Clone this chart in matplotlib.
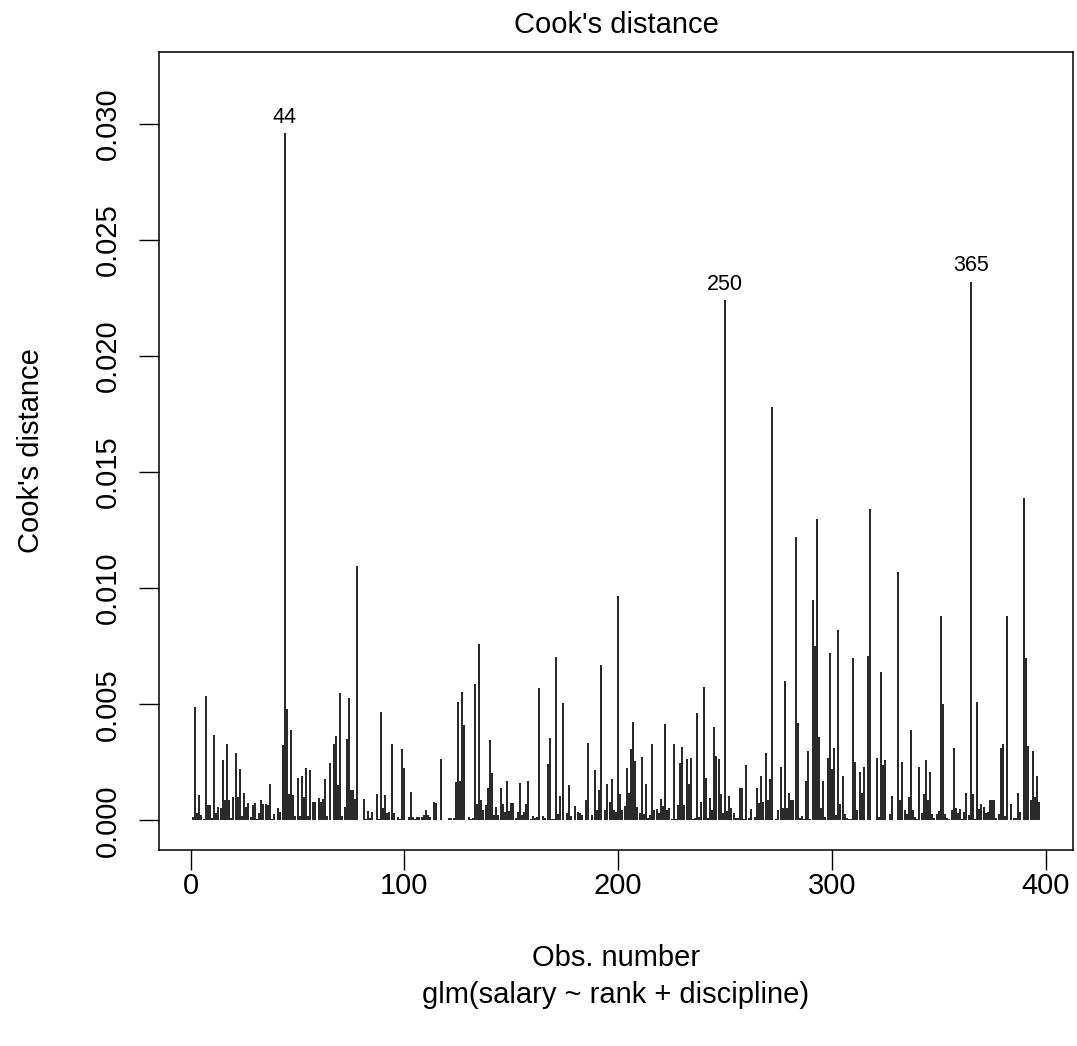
import matplotlib
matplotlib.use("Agg")
import matplotlib.pyplot as plt

plt.rcParams['font.family'] = ['Liberation Sans', 'DejaVu Sans']

cook = [
    0.00013, 0.00489, 0.00033, 0.00110, 0.00023, 0.00007, 0.00535, 0.00066, 0.00066, 0.00011,
    0.00366, 0.00030, 0.00057, 0.00055, 0.00260, 0.00088, 0.00330, 0.00090, 0.00010, 0.00100,
    0.00290, 0.00100, 0.00220, 0.00020, 0.00120, 0.00060, 0.00076, 0.00014, 0.00066, 0.00076,
    0.00007, 0.00030, 0.00088, 0.00070, 0.00070, 0.00065, 0.00155, 0.00007, 0.00026, 0.00004,
    0.00055, 0.00037, 0.00325, 0.02960, 0.00479, 0.00112, 0.00390, 0.00108, 0.00019, 0.00184,
    0.00019, 0.00191, 0.00102, 0.00227, 0.00019, 0.00216, 0.00080, 0.00079, 0.00004, 0.00095,
    0.00079, 0.00093, 0.00177, 0.00019, 0.00249, 0.00004, 0.00330, 0.00364, 0.00152, 0.00550,
    0.00019, 0.00057, 0.00349, 0.00526, 0.00129, 0.00129, 0.00093, 0.01094, 0.00004, 0.00004,
    0.00093, 0.00007, 0.00040, 0.00011, 0.00037, 0.00004, 0.00116, 0.00007, 0.00467, 0.00055,
    0.00108, 0.00033, 0.00037, 0.00330, 0.00033, 0.00004, 0.00016, 0.00007, 0.00306, 0.00227,
    0.00004, 0.00016, 0.00124, 0.00016, 0.00007, 0.00016, 0.00016, 0.00016, 0.00022, 0.00045,
    0.00022, 0.00016, 0.00004, 0.00079, 0.00073, 0.00004, 0.00266, 0.00004, 0.00004, 0.00004,
    0.00009, 0.00011, 0.00011, 0.00165, 0.00512, 0.00172, 0.00553, 0.00410, 0.00004, 0.00016,
    0.00007, 0.00011, 0.00586, 0.00069, 0.00759, 0.00088, 0.00045, 0.00066, 0.00141, 0.00345,
    0.00205, 0.00022, 0.00059, 0.00022, 0.00138, 0.00069, 0.00036, 0.00172, 0.00040, 0.00076,
    0.00076, 0.00011, 0.00036, 0.00160, 0.00022, 0.00036, 0.00069, 0.00172, 0.00007, 0.00019,
    0.00011, 0.00016, 0.00572, 0.00004, 0.00019, 0.00011, 0.00241, 0.00356, 0.00007, 0.00007,
    0.00706, 0.00026, 0.00105, 0.00507, 0.00004, 0.00030, 0.00151, 0.00019, 0.00004, 0.00062,
    0.00037, 0.00030, 0.00022, 0.00004, 0.00088, 0.00332, 0.00004, 0.00022, 0.00216, 0.00045,
    0.00131, 0.00670, 0.00004, 0.00045, 0.00155, 0.00080, 0.00177, 0.00045, 0.00036, 0.00967,
    0.00116, 0.00045, 0.00062, 0.00227, 0.00119, 0.00309, 0.00425, 0.00256, 0.00059, 0.00030,
    0.00274, 0.00026, 0.00155, 0.00011, 0.00022, 0.00328, 0.00047, 0.00050, 0.00033, 0.00093,
    0.00062, 0.00414, 0.00047, 0.00055, 0.00007, 0.00328, 0.00007, 0.00065, 0.00246, 0.00318,
    0.00066, 0.00266, 0.00155, 0.00270, 0.00007, 0.00009, 0.00461, 0.00016, 0.00080, 0.00576,
    0.00181, 0.00011, 0.00098, 0.00047, 0.00402, 0.00277, 0.00266, 0.00115, 0.00030, 0.02240,
    0.00040, 0.00105, 0.00055, 0.00030, 0.00009, 0.00011, 0.00140, 0.00140, 0.00007, 0.00240,
    0.00011, 0.00050, 0.00004, 0.00016, 0.00140, 0.00076, 0.00190, 0.00080, 0.00290, 0.00086,
    0.00180, 0.01780, 0.00004, 0.00007, 0.00045, 0.00230, 0.00055, 0.00600, 0.00055, 0.00120,
    0.00090, 0.00090, 0.01220, 0.00420, 0.00011, 0.00019, 0.00007, 0.00170, 0.00300, 0.00007,
    0.00950, 0.00750, 0.01300, 0.00360, 0.00055, 0.00170, 0.00016, 0.00270, 0.00720, 0.00220,
    0.00310, 0.00022, 0.00820, 0.00070, 0.00190, 0.00026, 0.00009, 0.00007, 0.00007, 0.00700,
    0.00250, 0.00047, 0.00210, 0.00120, 0.00230, 0.00004, 0.00710, 0.01340, 0.00004, 0.00004,
    0.00270, 0.00016, 0.00640, 0.00240, 0.00260, 0.00004, 0.00029, 0.00105, 0.00004, 0.00004,
    0.01070, 0.00090, 0.00250, 0.00045, 0.00026, 0.00100, 0.00390, 0.00045, 0.00014, 0.00007,
    0.00230, 0.00030, 0.00115, 0.00260, 0.00090, 0.00210, 0.00026, 0.00011, 0.00026, 0.00040,
    0.00880, 0.00500, 0.00026, 0.00011, 0.00007, 0.00045, 0.00310, 0.00055, 0.00033, 0.00050,
    0.00007, 0.00036, 0.00120, 0.00022, 0.02320, 0.00115, 0.00007, 0.00510, 0.00050, 0.00070,
    0.00059, 0.00033, 0.00036, 0.00090, 0.00090, 0.00088, 0.00011, 0.00029, 0.00310, 0.00330,
    0.00019, 0.00880, 0.00004, 0.00070, 0.00011, 0.00011, 0.00120, 0.00036, 0.00004, 0.01390,
    0.00700, 0.00320, 0.00090, 0.00300, 0.00100, 0.00190, 0.00080,
]
labelled = [44, 250, 365]
x_ticks = [0, 100, 200, 300, 400]
y_ticks = [0.000, 0.005, 0.010, 0.015, 0.020, 0.025, 0.030]

obs = list(range(1, len(cook) + 1))

fig = plt.figure(figsize=(10.77, 10.46), dpi=100)
ax = fig.add_axes([159 / 1077, 1 - 850 / 1046, 914 / 1077, 798 / 1046])

ax.vlines(obs, 0, cook, color='black', lw=1.2)

for i in labelled:
    ax.annotate(str(i), (i, cook[i - 1]), xytext=(0, 4), textcoords='offset points',
                ha='center', va='bottom', fontsize=15.5)

# R style limits: 4% padding, y upper = 1.075 * max
xr = len(cook) - 1
ax.set_xlim(1 - 0.04 * xr, len(cook) + 0.04 * xr)
ytop = max(cook) * 1.075
ax.set_ylim(-0.04 * ytop, ytop * 1.04)

ax.set_xticks(x_ticks)
ax.set_xticklabels([str(t) for t in x_ticks])
ax.set_yticks(y_ticks)
ax.set_yticklabels([f'{t:.3f}' for t in y_ticks], rotation=90, va='center')
ax.tick_params(length=14.4, width=1.0, labelsize=21)
ax.tick_params(axis='x', pad=1.5)
ax.tick_params(axis='y', pad=12)

for s in ax.spines.values():
    s.set_linewidth(1.1)

fig.text(616 / 1077, 1 - 25 / 1046, "Cook's distance", ha='center', va='center', fontsize=21)
fig.text(616 / 1077, 1 - 958 / 1046, 'Obs. number', ha='center', va='center', fontsize=21)
fig.text(616 / 1077, 1 - 995 / 1046, 'glm(salary ~ rank + discipline)', ha='center', va='center', fontsize=21)
fig.text(31 / 1077, 1 - 451 / 1046, "Cook's distance", ha='center', va='center', fontsize=21, rotation=90)

fig.savefig('out.png', dpi=100)
